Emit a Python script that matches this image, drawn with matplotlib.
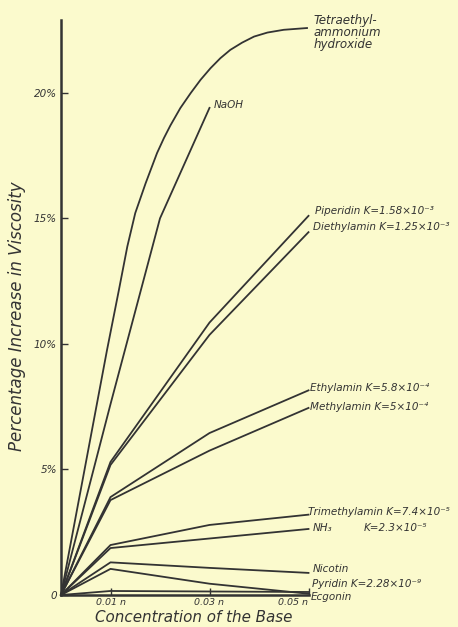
import matplotlib.pyplot as plt

# концентрація основи (n)
conc = [0, 0.01, 0.03, 0.05]

# приріст в'язкості, %
tetraethyl_x = [0, 0.0093, 0.0117, 0.0134, 0.0150, 0.0171, 0.0194, 0.0208, 0.0221,
                0.0241, 0.0262, 0.0282, 0.0302, 0.0322, 0.0342, 0.0366, 0.039,
                0.0417, 0.045, 0.0497]
tetraethyl_y = [0, 9.76, 12.15, 13.88, 15.21, 16.4, 17.6, 18.2, 18.7,
                19.39, 19.99, 20.52, 20.98, 21.38, 21.71, 22.0, 22.24,
                22.4, 22.51, 22.58]
naoh_x = [0, 0.01, 0.02, 0.03]
naoh_y = [0, 7.6, 15.0, 19.4]
piperidin = [0, 5.3, 10.85, 15.1]
diethylamin = [0, 5.18, 10.36, 14.45]
ethylamin = [0, 3.9, 6.45, 8.15]
methylamin = [0, 3.78, 5.75, 7.45]
trimethylamin = [0, 1.99, 2.79, 3.2]
nh3 = [0, 1.87, 2.25, 2.63]
nicotin = [0, 1.3, 1.08, 0.88]
pyridin = [0, 1.04, 0.45, 0.05]
ecgonin = [0, 0.16, 0.14, 0.12]

labels = ["Piperidin K=1.58×10⁻³", "Diethylamin K=1.25×10⁻³",
          "Ethylamin K=5.8×10⁻⁴", "Methylamin K=5×10⁻⁴",
          "Trimethylamin K=7.4×10⁻⁵", "NH₃", "Nicotin",
          "Pyridin K=2.28×10⁻⁹", "Ecgonin"]
series = [piperidin, diethylamin, ethylamin, methylamin, trimethylamin,
          nh3, nicotin, pyridin, ecgonin]
# позиції підписів (x, y) в координатах даних
label_pos = [(0.0513, 15.3), (0.0510, 14.65), (0.0504, 8.25), (0.0504, 7.5),
             (0.0500, 3.3), (0.0508, 2.65), (0.0508, 1.04), (0.0508, 0.44),
             (0.0504, -0.08)]

bg = '#fbfacd'
ink = '#333333'

fig = plt.figure(figsize=(4.58, 6.27), dpi=100, facecolor=bg)
ax = fig.add_axes([61 / 458, 32 / 627, 247.5 / 458, 575 / 627])
ax.set_facecolor(bg)

lw = 1.3
ax.plot(tetraethyl_x, tetraethyl_y, color=ink, lw=lw, clip_on=False,
        solid_joinstyle='round')
ax.plot(naoh_x, naoh_y, color=ink, lw=lw, clip_on=False)
for s in series:
    ax.plot(conc, s, color=ink, lw=lw, clip_on=False)

font = dict(family='DejaVu Sans', style='italic', color=ink)
ax.text(0.0511, 22.4, "Tetraethyl-\nammonium\nhydroxide", fontsize=8.6,
        va='center', ha='left', linespacing=0.9, clip_on=False, **font)
ax.text(0.0308, 19.5, "NaOH", fontsize=7.5, va='center', ha='left', **font)
for lab, (x, y) in zip(labels, label_pos):
    ax.text(x, y, lab, fontsize=7.5, va='center', ha='left', clip_on=False, **font)
ax.text(0.0611, 2.65, "K=2.3×10⁻⁵", fontsize=7.5, va='center', ha='left',
        clip_on=False, **font)

ax.set_xlim(0, 0.05)
ax.set_ylim(0, 22.9)
for side in ['top', 'right']:
    ax.spines[side].set_visible(False)
for side in ['left', 'bottom']:
    ax.spines[side].set_linewidth(1.8)
    ax.spines[side].set_color(ink)

ax.set_yticks([0, 5, 10, 15, 20])
ax.set_yticklabels(['0', '5%', '10%', '15%', '20%'], fontsize=7.5, **font)
ax.set_xticks([0.01, 0.03, 0.05])
ax.set_xticklabels(['0.01 n', '0.03 n', '0.05 n'], fontsize=6.8, **font)
ax.get_xticklabels()[-1].set_horizontalalignment('right')
ax.tick_params(direction='in', length=5, width=1, color=ink, pad=2)
ax.tick_params(axis='y', pad=3)

ax.set_ylabel("Percentage Increase in Viscosity", fontsize=12, **font)
ax.yaxis.set_label_coords(-0.141, 0.485)
ax.set_xlabel("Concentration of the Base", fontsize=10.9, **font)
ax.xaxis.set_label_coords(0.537, -0.026)

plt.savefig("out.png", dpi=100, facecolor=bg)
